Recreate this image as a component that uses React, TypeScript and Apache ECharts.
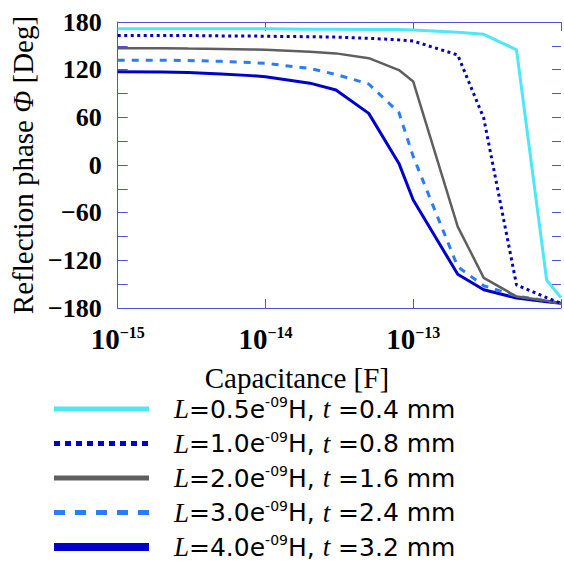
import React, { useEffect, useRef } from 'react';
import * as echarts from 'echarts';

const capacitance = [1e-15, 2e-15, 3e-15, 5e-15, 8e-15, 1e-14, 2e-14, 3e-14, 5e-14, 8e-14, 1e-13, 2e-13, 3e-13, 5e-13, 8e-13, 1e-12];
const inductances = ['0.5', '1.0', '2.0', '3.0', '4.0'];
const thicknesses = ['0.4', '0.8', '1.6', '2.4', '3.2'];

const phaseL05 = [171.5, 171.5, 171.5, 171.5, 171.5, 171.5, 171, 171, 170.5, 170.5, 170, 167, 164.5, 145, -145, -167];
const phaseL10 = [163, 163, 163, 162.5, 162.5, 162, 161.5, 161, 159.5, 157.5, 156, 138.5, 59, -151, -167, -174];
const phaseL20 = [147, 147, 146.5, 146, 145.5, 145, 142.5, 140.5, 134.5, 119.5, 105, -77.5, -142, -165.5, -171, -174];
const phaseL30 = [132, 132, 131.5, 130.5, 129, 128, 121.5, 114, 102, 66, 10.5, -128, -152, -165, -171, -174];
const phaseL40 = [117.5, 117, 116.5, 114.5, 112.5, 111, 103, 94.5, 65, 2, -44, -137.5, -157, -167.5, -172, -174];

const phases = [phaseL05, phaseL10, phaseL20, phaseL30, phaseL40];
const colors = ['#4fe6f6', '#0000c8', '#5f5f5f', '#2a7cff', '#0000cc'];

const SERIF = "'Liberation Serif', 'Times New Roman', serif";
const SANS = "'DejaVu Sans', sans-serif";
const AXIS_COLOR = '#5050dd';

export default function App() {
  const ref = useRef<HTMLDivElement>(null);
  useEffect(() => {
    if (!ref.current) return;
    const chart = echarts.init(ref.current, undefined, { renderer: 'svg' });
    const names = inductances.map((l, i) => `L=${l}e-09H, t =${thicknesses[i]} mm`);
    const plotWidths = [3, 3, 2.5, 3, 3];
    const plotTypes: any[] = ['solid', [3, 3.5], 'solid', [7, 7], 'solid'];
    const legendWidths = [5, 5, 5, 5, 8];
    const legendTypes: any[] = ['solid', [6, 5], 'solid', [11, 10], 'solid'];

    const option: any = {
      animation: false,
      backgroundColor: '#ffffff',
      grid: { left: 105, right: 0, top: 22, bottom: 263 },
      legend: {
        orient: 'vertical',
        left: 45,
        top: 390,
        height: 180,
        itemWidth: 95,
        itemHeight: 14,
        itemGap: 7,
        selectedMode: false,
        itemStyle: { opacity: 0 },
        data: names.map((n, i) => ({
          name: n,
          lineStyle: { width: legendWidths[i], type: legendTypes[i], color: colors[i] },
        })),
        formatter: (name: string) => {
          const i = names.indexOf(name);
          return `{i|L}{n|=${inductances[i]}e}{s|-09}{n|H, }{i|t}{n| =${thicknesses[i]} mm}`;
        },
        textStyle: {
          padding: [0, 0, 0, 20],
          rich: {
            i: { fontFamily: SERIF, fontStyle: 'italic', fontSize: 27, lineHeight: 28, color: '#000' },
            n: { fontFamily: SANS, fontSize: 25, lineHeight: 28, color: '#000' },
            s: { fontFamily: SANS, fontSize: 14, lineHeight: 14, verticalAlign: 'top', color: '#000' },
          },
        },
      },
      xAxis: [
        {
          type: 'log',
          logBase: 10,
          min: 1e-15,
          max: 1e-12,
          position: 'bottom',
          axisLine: { show: true, onZero: false, lineStyle: { color: AXIS_COLOR, width: 1 } },
          axisTick: { show: true, inside: true, length: 9, lineStyle: { color: AXIS_COLOR } },
          minorTick: { show: false },
          splitLine: { show: false },
          axisLabel: {
            margin: 16,
            formatter: (v: number) => {
              const e = Math.round(Math.log10(v));
              if (e >= -12) return '';
              return `{b|10}{s|−${-e}}`;
            },
            rich: {
              b: { fontFamily: SERIF, fontSize: 29, fontWeight: 'bold', lineHeight: 30, color: '#000' },
              s: { fontFamily: SERIF, fontSize: 16, fontWeight: 'bold', lineHeight: 16, verticalAlign: 'top', color: '#000' },
            },
          },
          name: 'Capacitance [F]',
          nameLocation: 'middle',
          nameGap: 59,
          nameTextStyle: { fontFamily: SERIF, fontSize: 29, lineHeight: 22, color: '#000', padding: [0, 85, 0, 0] },
        },
        {
          type: 'log',
          logBase: 10,
          min: 1e-15,
          max: 1e-12,
          position: 'top',
          axisLine: { show: true, onZero: false, lineStyle: { color: AXIS_COLOR, width: 1 } },
          axisTick: { show: true, inside: true, length: 9, lineStyle: { color: AXIS_COLOR } },
          minorTick: { show: false },
          splitLine: { show: false },
          axisLabel: { show: false },
        },
      ],
      yAxis: [
        {
          type: 'value',
          min: -180,
          max: 180,
          interval: 30,
          position: 'left',
          axisLine: { show: true, onZero: false, lineStyle: { color: AXIS_COLOR, width: 1 } },
          axisTick: { show: true, inside: true, length: 10, lineStyle: { color: AXIS_COLOR } },
          splitLine: { show: false },
          axisLabel: {
            margin: 16,
            fontFamily: SERIF,
            fontSize: 26,
            fontWeight: 'bold',
            color: '#000',
            formatter: (v: number) => (v % 60 === 0 ? (v < 0 ? '−' + -v : String(v)) : ''),
          },
          name: '{r|Reflection phase }{i|Φ}{r| [Deg]}',
          nameLocation: 'middle',
          nameGap: 68,
          nameTextStyle: {
            rich: {
              r: { fontFamily: SERIF, fontSize: 29, color: '#000' },
              i: { fontFamily: SERIF, fontSize: 29, fontStyle: 'italic', color: '#000' },
            },
          },
        },
        {
          type: 'value',
          min: -180,
          max: 180,
          interval: 30,
          position: 'right',
          axisLine: { show: false, onZero: false },
          axisTick: { show: true, inside: true, length: 9, lineStyle: { color: AXIS_COLOR } },
          splitLine: { show: false },
          axisLabel: { show: false },
        },
      ],
      series: phases.map((p, i) => ({
        name: names[i],
        type: 'line',
        xAxisIndex: 0,
        yAxisIndex: 0,
        symbol: 'none',
        data: capacitance.map((c, j) => [c, p[j]]),
        lineStyle: { color: colors[i], width: plotWidths[i], type: plotTypes[i] },
        itemStyle: { color: colors[i] },
        z: 5 - i,
      })),
    };
    chart.setOption(option);
    return () => chart.dispose();
  }, []);
  return <div ref={ref} style={{ position: 'fixed', left: 0, top: 0, width: 564, height: 571 }} />;
}
